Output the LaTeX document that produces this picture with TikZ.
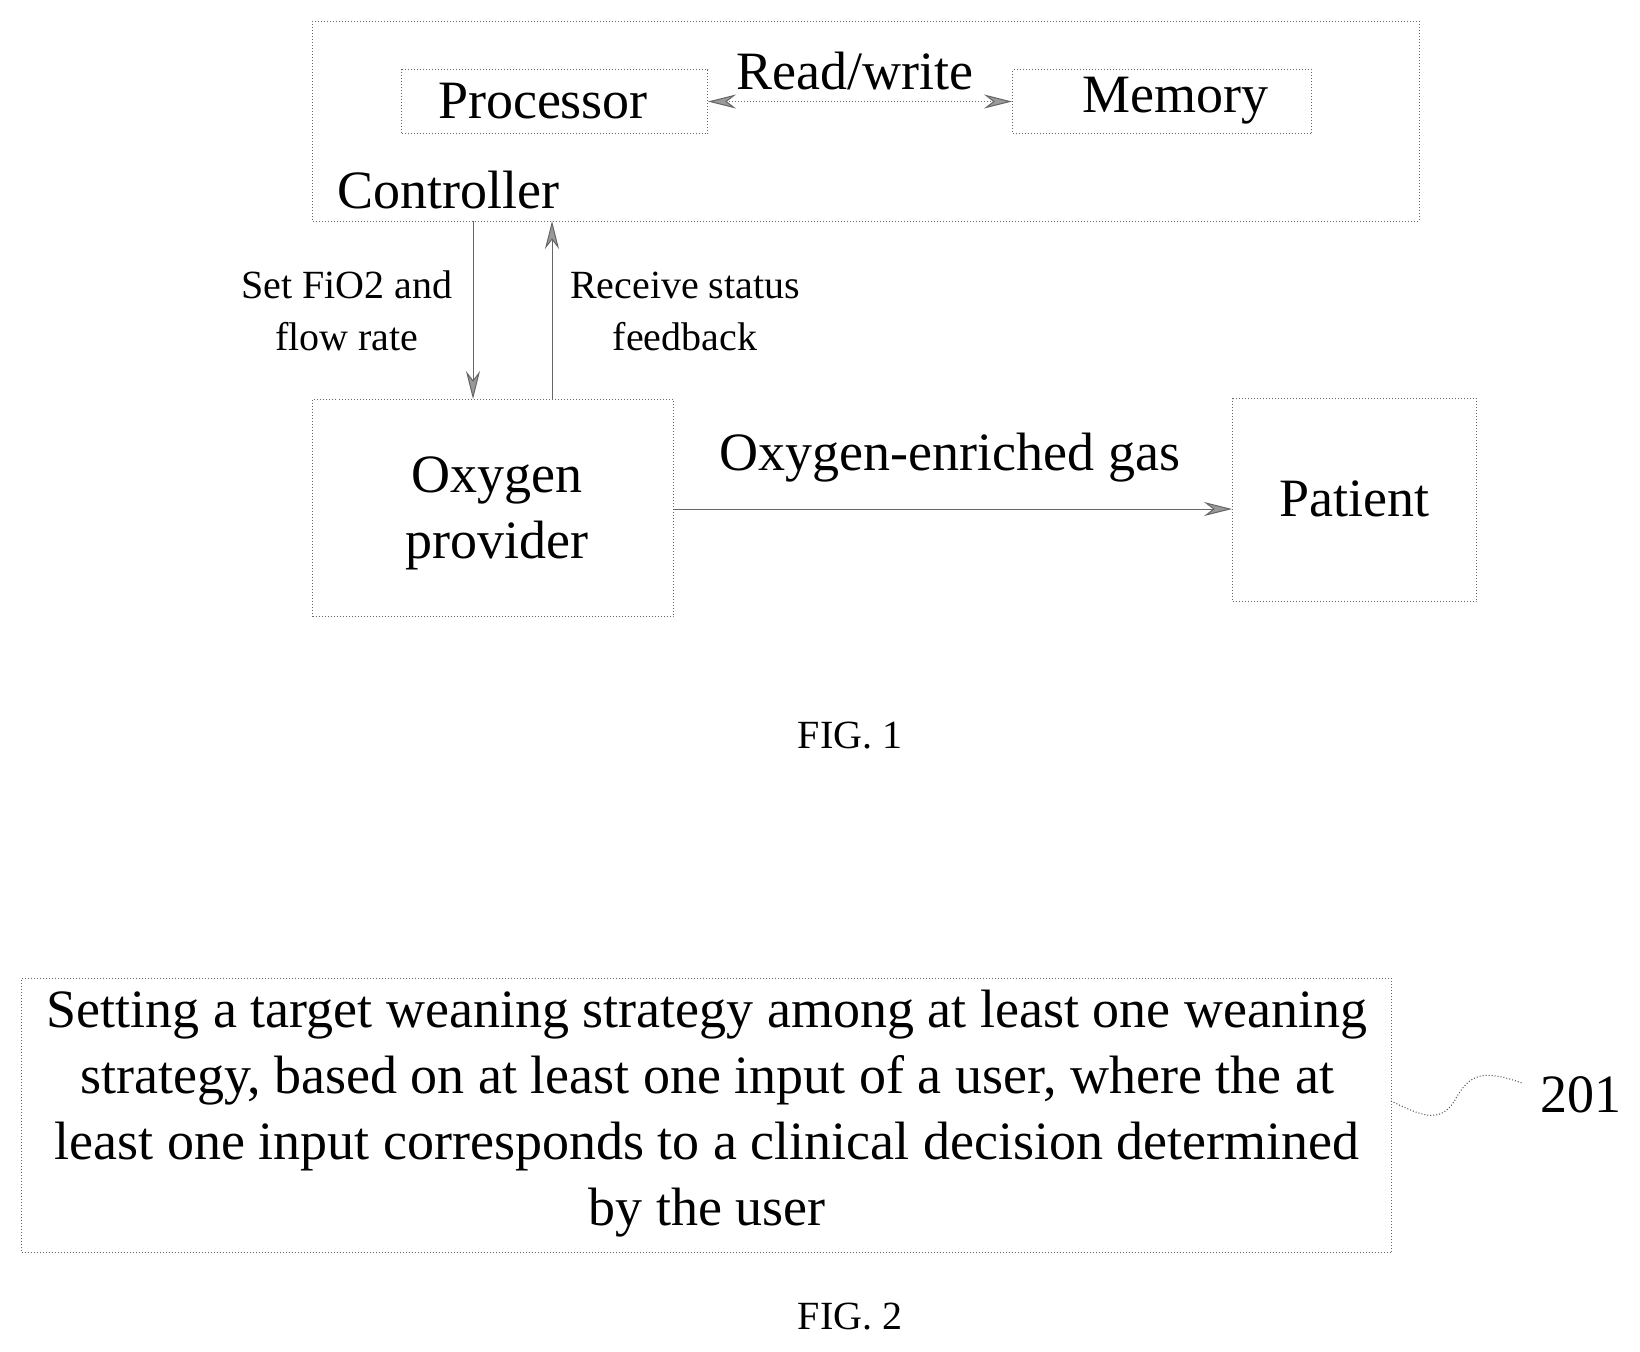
\documentclass[tikz,border=0pt]{standalone}
\usepackage{fontspec}
\setmainfont{Liberation Serif}
\usetikzlibrary{arrows.meta}
\begin{document}
\begin{tikzpicture}[x=0.5pt,y=-0.5pt,
  box/.style={draw=black!60,line width=0.5pt,densely dotted},
  big/.style={font=\fontsize{27}{33}\selectfont},
  small/.style={font=\fontsize{20}{26}\selectfont,align=center},
  arr/.style={draw=black!60,line width=0.5pt,-{Stealth[length=14pt,width=7pt,fill=black!40]}},
  darr/.style={draw=black!60,line width=0.5pt,densely dotted,{Stealth[length=14pt,width=7pt,fill=black!40]}-{Stealth[length=14pt,width=7pt,fill=black!40]}}]
\useasboundingbox (0,0) rectangle (1640,1351);
\draw[box] (312,21) rectangle (1419,221);
\node[box,minimum width=153pt,minimum height=32pt,anchor=north west,inner sep=0] (proc) at (401,69) {};
\node[big] at (543,101) {Processor};
\node[box,minimum width=149.5pt,minimum height=32pt,anchor=north west,inner sep=0] (mem) at (1012,69) {};
\node[big] at (1175,101) {Memory};
\draw[darr] (proc.east) -- (mem.west);
\node[big] (rw) at (855,71) {Read/write};
\node[big,anchor=west] (ctrl) at (330,190) {Controller};
\coordinate (cb1) at (473,221);
\coordinate (cb2) at (552,221);
\node[box,minimum width=180.5pt,minimum height=108.5pt,anchor=north west,inner sep=0] (oxy) at (312,399) {};
\node[big,align=center] at (497,513) {Oxygen\\provider};
\node[box,minimum width=122pt,minimum height=101.5pt,anchor=north west,inner sep=0] (pat) at (1232,398) {};
\node[big] at (1354,499) {Patient};
\draw[arr] (cb1) -- (cb1 |- oxy.north);
\draw[arr] (cb2 |- oxy.north) -- (cb2);
\node[small] (l1) at (347,311) {Set FiO2 and\\flow rate};
\node[small] (l2) at (685,311) {Receive status\\feedback};
\draw[arr] (oxy.east |- 0,509) -- (pat.west |- 0,509);
\node[big] (og) at (950,458) {Oxygen-enriched gas};
\node[small] (f1) at (850,736) {FIG. 1};
\node[box,minimum width=685pt,minimum height=137pt,anchor=north west,inner sep=0] (step) at (21,978) {};
\node[big,align=center] (st) at (707,1114) {Setting a target weaning strategy among at least one weaning\\strategy, based on at least one input of a user, where the at\\least one input corresponds to a clinical decision determined\\by the user};
\node[big] (n201) at (1581,1095) {201};
\draw[black!70,line width=0.5pt,densely dotted] (1391,1101) .. controls (1420,1115) and (1440,1125) .. (1455,1100) .. controls (1470,1072) and (1485,1070) .. (1522,1083);
\node[small] (f2) at (850,1317) {FIG. 2};
\end{tikzpicture}
\end{document}
